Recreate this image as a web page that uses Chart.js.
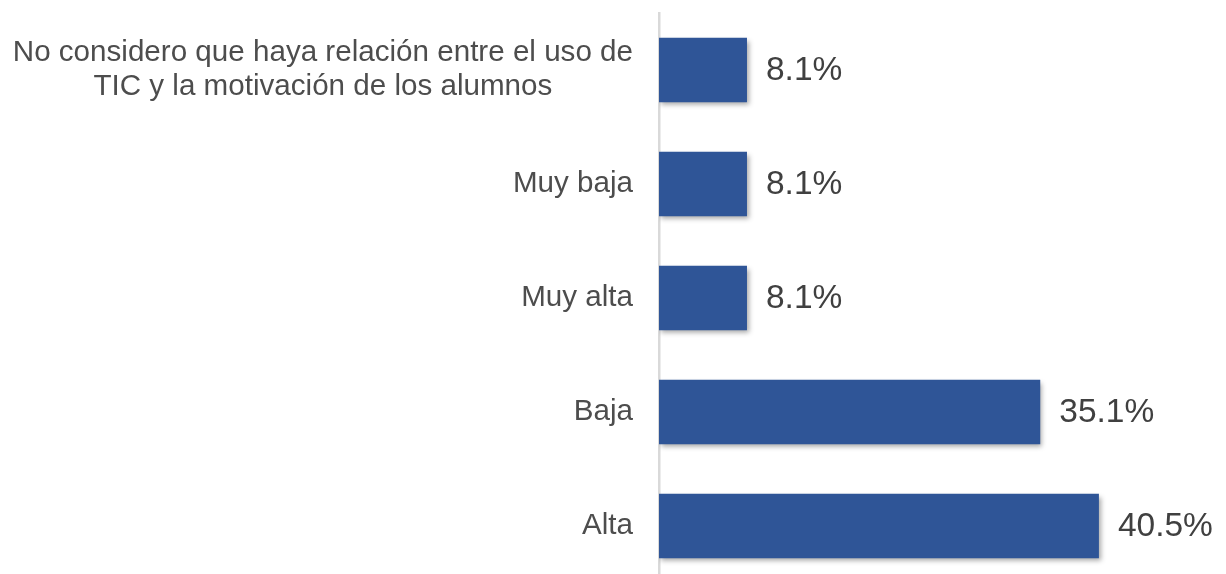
<!DOCTYPE html>
<html>
<head>
<meta charset="utf-8">
<script src="https://cdn.jsdelivr.net/npm/chart.js@4"></script>
<style>
  html, body { margin: 0; padding: 0; background: #fff; overflow: hidden; }
  #wrap { position: relative; width: 1226px; height: 583px; }
</style>
</head>
<body>
<div id="wrap"><canvas id="myChart"></canvas></div>
<script>
const categories = [
    ['No considero que haya relación entre el uso de', 'TIC y la motivación de los alumnos'],
    'Muy baja',
    'Muy alta',
    'Baja',
    'Alta'
];
const values = [8.1, 8.1, 8.1, 35.1, 40.5];
const valueLabels = ['8.1%', '8.1%', '8.1%', '35.1%', '40.5%'];

// shadow under the bars
const barShadow = {
    id: 'barShadow',
    beforeDatasetsDraw(chart){
        const ctx = chart.ctx;
        ctx.save();
        ctx.shadowColor = 'rgba(0,0,0,0.35)';
        ctx.shadowBlur = 5;
        ctx.shadowOffsetX = 2;
        ctx.shadowOffsetY = 3;
    },
    afterDatasetsDraw(chart){
        chart.ctx.restore();
    }
};

// category labels: multi-line ones centred on their own block, right edge at the axis padding
const catLabels = {
    id: 'catLabels',
    afterDraw(chart){
        const ctx = chart.ctx;
        const yScale = chart.scales.y;
        const right = chart.chartArea.left - 26;
        ctx.save();
        ctx.font = '29.6px "Liberation Sans", Arial, sans-serif';
        ctx.fillStyle = '#4d4d4d';
        ctx.textBaseline = 'middle';
        const lh = 34;
        categories.forEach((lab, i)=>{
            const y = yScale.getPixelForTick(i);
            const lines = Array.isArray(lab) ? lab : [lab];
            const maxW = Math.max(...lines.map(l=>ctx.measureText(l).width));
            const cx = right - maxW / 2;
            lines.forEach((l, j)=>{
                const ly = y + (j - (lines.length - 1) / 2) * lh;
                ctx.textAlign = 'center';
                ctx.fillText(l, cx, ly);
            });
        });
        ctx.restore();
    }
};

// value labels at the end of each bar
const valueText = {
    id: 'valueText',
    afterDatasetsDraw(chart){
        const ctx = chart.ctx;
        const meta = chart.getDatasetMeta(0);
        ctx.save();
        ctx.font = '33.5px "Liberation Sans", Arial, sans-serif';
        ctx.fillStyle = '#404040';
        ctx.textAlign = 'left';
        ctx.textBaseline = 'middle';
        meta.data.forEach((bar, i)=>{
            ctx.fillText(valueLabels[i], bar.x + 19, bar.y + 1);
        });
        ctx.restore();
    }
};

const myChart = new Chart('myChart', {
    type: 'bar',
    data: {
        labels: categories,
        datasets: [{
            data: values,
            backgroundColor: '#2F5597',
            borderWidth: 0,
            barPercentage: 0.565,
            categoryPercentage: 1
        }]
    },
    options: {
        indexAxis: 'y',
        responsive: true,
        maintainAspectRatio: false,
        animation: false,
        layout: { padding: { top: 13, right: 0, bottom: 0, left: 0 } },
        plugins: {
            legend: { display: false },
            tooltip: { enabled: false }
        },
        scales: {
            x: {
                display: false,
                min: 0,
                max: 52.2
            },
            y: {
                grid: { display: false, drawTicks: false },
                border: { display: true, color: '#d9d9d9', width: 2.5 },
                ticks: { display: false },
                afterFit(scale){ scale.width = 659; }
            }
        }
    },
    plugins: [barShadow, valueText, catLabels]
});
</script>
</body>
</html>
